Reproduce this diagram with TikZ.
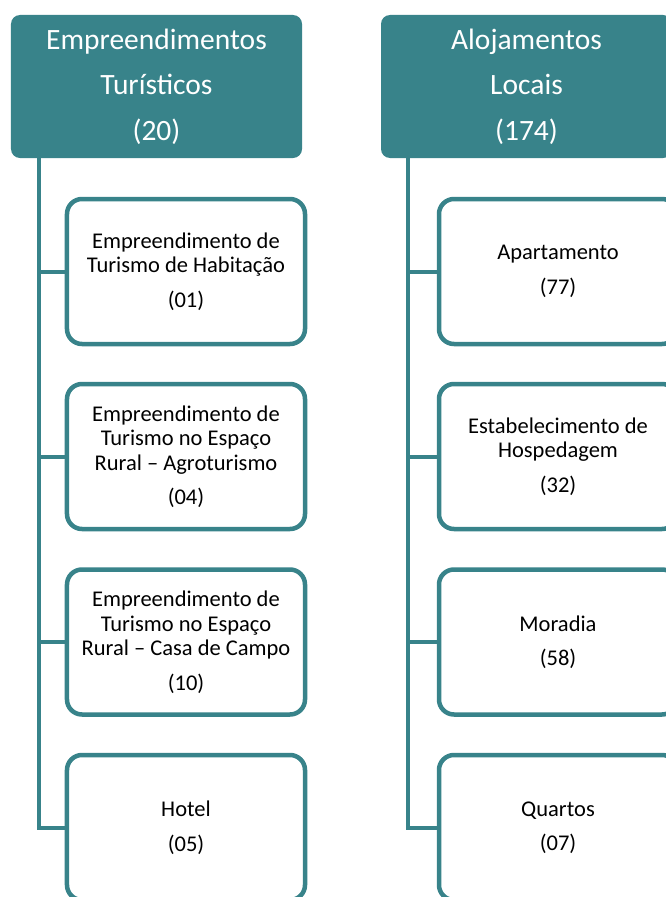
\documentclass[tikz,border=0pt]{standalone}
\usepackage{fontspec}
\setmainfont{Carlito}
\definecolor{teal1}{RGB}{56,131,138}
\begin{document}
\begin{tikzpicture}[x=1bp,y=-1bp,
  head/.style={fill=teal1, rounded corners=9bp, minimum width=291bp, minimum height=143bp,
    text=white, align=center, font=\fontsize{29.5bp}{45.5bp}\selectfont, inner sep=0pt},
  child/.style={draw=teal1, line width=4.5bp, fill=white, rounded corners=15bp,
    minimum width=238bp, minimum height=145bp, align=center,
    font=\fontsize{22.5bp}{24.5bp}\selectfont, inner sep=0pt},
  conn/.style={draw=teal1, line width=4bp}]
\useasboundingbox (0,0) rectangle (666,897);
\clip (0,0) rectangle (666,897);
% headers
\node[head] (hL) at (156.5,86.5) {Empreendimentos\\Turísticos\\(20)};
\node[head] (hR) at (526.5,86.5) {Alojamentos\\Locais\\(174)};
% trunk coordinates
\coordinate (tL) at (38.5,158);
\coordinate (tR) at (407.5,158);
% left children
\node[child] (l1) at (186,271.5) {Empreendimento de\\Turismo de Habitação\\[10bp](01)};
\node[child] (l2) at (186,456.5) {Empreendimento de\\Turismo no Espaço\\Rural – Agroturismo\\[10bp](04)};
\node[child] (l3) at (186,642) {Empreendimento de\\Turismo no Espaço\\Rural – Casa de Campo\\[10bp](10)};
\node[child] (l4) at (186,827.5) {Hotel\\[10bp](05)};
% right children
\node[child] (r1) at (558,271.5) {Apartamento\\[10bp](77)};
\node[child] (r2) at (558,456.5) {Estabelecimento de\\Hospedagem\\[10bp](32)};
\node[child] (r3) at (558,642) {Moradia\\[10bp](58)};
\node[child] (r4) at (558,827.5) {Quartos\\[10bp](07)};
% connectors
\draw[conn] (tL) |- (l4.west);
\draw[conn] (tL |- l1.west) -- (l1.west);
\draw[conn] (tL |- l2.west) -- (l2.west);
\draw[conn] (tL |- l3.west) -- (l3.west);
\draw[conn] (tR) |- (r4.west);
\draw[conn] (tR |- r1.west) -- (r1.west);
\draw[conn] (tR |- r2.west) -- (r2.west);
\draw[conn] (tR |- r3.west) -- (r3.west);
\end{tikzpicture}
\end{document}
